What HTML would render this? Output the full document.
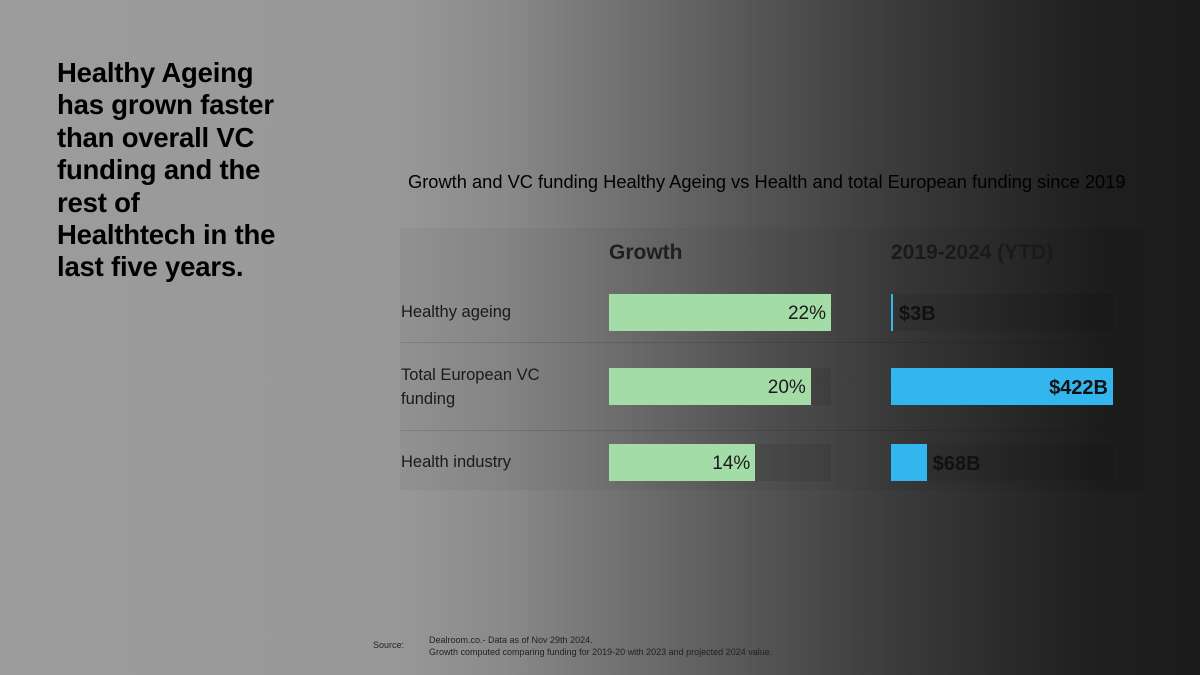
<!DOCTYPE html>
<html><head><meta charset="utf-8"><style>
html,body{margin:0;padding:0}
body{width:1200px;height:675px;overflow:hidden;position:relative;font-family:"Liberation Sans",sans-serif;
background:linear-gradient(to right,#9c9c9c 0%,#989898 33%,#8a8a8a 42%,#707070 52%,#555 63%,#3c3c3c 74%,#2a2a2a 84%,#1e1e1e 92%,#1c1c1c 100%);}
.abs{position:absolute}
#headline{left:57px;top:57px;font-size:27.5px;font-weight:bold;line-height:32.4px;color:#000;letter-spacing:-0.2px}
#ctitle{left:408px;top:171px;font-size:18.3px;color:#000;white-space:nowrap}
#panel{left:400px;top:228px;width:745px;height:262px;background:rgba(0,0,0,0.04)}
.hdr{font-size:21px;font-weight:bold;color:#1f1f1f;top:241px}
.lab{left:401px;font-size:16.5px;color:#1a1a1a;line-height:24px}
.sep{left:400px;width:745px;height:1px;background:rgba(0,0,0,0.12)}
.track{background:rgba(0,0,0,0.08)}
.val{font-size:19px;line-height:40px}
#src{left:373px;top:640px;font-size:9px;color:#222}
#note{left:429px;top:634px;font-size:9px;color:#222;line-height:12px}
</style></head><body>
<div id="headline" class="abs">Healthy Ageing<br>has grown faster<br>than overall VC<br>funding and the<br>rest of<br>Healthtech in the<br>last five years.</div>
<div id="ctitle" class="abs">Growth and VC funding Healthy Ageing vs Health and total European funding since 2019</div>
<div id="panel" class="abs"></div>
<div class="abs hdr" style="left:609px">Growth</div>
<div class="abs hdr" style="left:891px;color:#1a1a1a">2019-2024 (YTD)</div>
<div id="chart"></div>
<div id="src" class="abs">Source:</div>
<div id="note" class="abs">Dealroom.co.- Data as of Nov 29th 2024.<br>Growth computed comparing funding for 2019-20 with 2023 and projected 2024 value.</div>
<script>
const categories=["Healthy ageing","Total European VC\nfunding","Health industry"];
const growthValues=[22,20,14.5];
const growthLabels=["22%","20%","14%"];
const fundingValues=[3,422,68];
const fundingLabels=["$3B","$422B","$68B"];
const rowTops=[294,368,444];
const BAR_H=37, TRACK_W=222, GX=609, FX=891;
const gScale=v=>v/Math.max(...growthValues)*TRACK_W;
const fScale=v=>v/Math.max(...fundingValues)*TRACK_W;
const root=document.getElementById('chart');
function mk(cls,style){const d=document.createElement('div');d.className='abs '+cls;Object.assign(d.style,style);root.appendChild(d);return d;}
categories.forEach((c,i)=>{
  const y=rowTops[i];
  const lab=mk('lab',{top:(c.includes('\n')?y-5:y+6)+'px'});
  
  
  lab.innerHTML=c.replace('\n','<br>');
  const t1=mk('track',{left:GX+'px',top:y+'px',width:TRACK_W+'px',height:BAR_H+'px'});
  
  
  const gw=gScale(growthValues[i]);
  const b1=mk('',{left:GX+'px',top:y+'px',width:gw+'px',height:BAR_H+'px',background:'#a4dca8'});
  
  
  const v1=mk('val',{left:GX+'px',top:y+'px',width:(gw-5)+'px',textAlign:'right',color:'#1a1a1a'});
  
  
  v1.textContent=growthLabels[i];
  const t2=mk('track',{left:FX+'px',top:y+'px',width:TRACK_W+'px',height:BAR_H+'px'});
  
  
  const fw=Math.max(2,fScale(fundingValues[i]));
  const inside=fw>80;
  const b2=mk('',{left:FX+'px',top:y+'px',width:fw+'px',height:BAR_H+'px',background:'#33b5ee'});
  
  
  const v2=mk('val',inside?{left:FX+'px',top:y+'px',width:(fw-5)+'px',textAlign:'right',fontWeight:'bold',color:'#111',fontSize:'20px'}:{left:(FX+fw+6)+'px',top:y+'px',fontWeight:'bold',color:'#111',fontSize:'20px'});
  
  
  v2.textContent=fundingLabels[i];
  if(i<categories.length-1){
    const s=mk('sep',{top:(i==0?342:430)+'px'});
    
    
  }
});
</script>
</body></html>
